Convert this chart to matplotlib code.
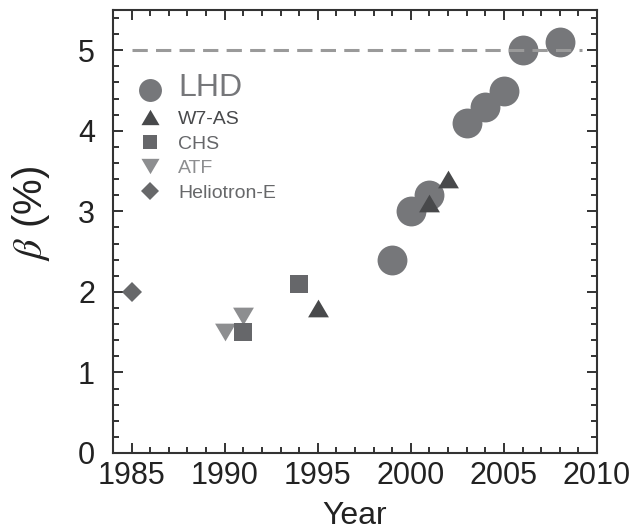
import matplotlib
matplotlib.use("Agg")
import matplotlib.pyplot as plt
from matplotlib.lines import Line2D
from matplotlib.ticker import MultipleLocator

plt.rcParams.update({
    "font.family": "Liberation Sans",
    "mathtext.fontset": "stix",
})

# Data
years_lhd = [1999, 2000, 2001, 2003, 2004, 2005, 2006, 2008]
beta_lhd = [2.4, 3.0, 3.2, 4.1, 4.3, 4.5, 5.0, 5.1]
years_w7as = [1995, 2001, 2002]
beta_w7as = [1.8, 3.1, 3.4]
years_chs = [1991, 1994]
beta_chs = [1.5, 2.1]
years_atf = [1990, 1991]
beta_atf = [1.5, 1.7]
years_hel = [1985]
beta_hel = [2.0]
beta_limit = 5.0
limit_span = [1985, 2009.2]

C_LHD = "#76777a"
C_W7 = "#48494b"
C_CHS = "#66676a"
C_ATF = "#8d8e90"
C_HEL = "#67686a"
C_AX = "#333333"

TRI_UP = [(-1, -0.85), (1, -0.85), (0, 0.85)]
TRI_DN = [(-1, 0.85), (1, 0.85), (0, -0.85)]

fig = plt.figure(figsize=(6.32, 5.32), dpi=100)
ax = fig.add_axes([113 / 632, 1 - 453 / 532, 484 / 632, 443 / 532])

ax.plot(years_lhd, beta_lhd, "o", ls="none", color=C_LHD, ms=21.5, mew=0, zorder=3)
ax.plot(years_atf, beta_atf, ls="none", marker=TRI_DN, color=C_ATF, ms=15, mew=0, zorder=4)
ax.plot(years_chs, beta_chs, "s", ls="none", color=C_CHS, ms=13, mew=0, zorder=5)
ax.plot(years_w7as, beta_w7as, ls="none", marker=TRI_UP, color=C_W7, ms=15, mew=0, zorder=5)
ax.plot(years_hel, beta_hel, "D", ls="none", color=C_HEL, ms=10, mew=0, zorder=5)

ax.hlines(beta_limit, limit_span[0], limit_span[1], colors="#9a9a9a", lw=2.2,
          linestyles=(0, (5, 2.7)), zorder=6)

ax.set_xlim(1984, 2010)
ax.set_ylim(0, 5.5)
ax.xaxis.set_major_locator(MultipleLocator(5))
ax.xaxis.set_minor_locator(MultipleLocator(1))
ax.yaxis.set_major_locator(MultipleLocator(1))
ax.yaxis.set_minor_locator(MultipleLocator(0.2))
ax.tick_params(which="both", direction="in", top=True, right=True, color=C_AX,
               width=1.4, labelsize=22, labelcolor="#222222")
ax.tick_params(which="major", length=7)
ax.tick_params(which="minor", length=4)
ax.tick_params(axis="x", pad=6)
ax.tick_params(axis="y", pad=13)
for s in ax.spines.values():
    s.set_color(C_AX)
    s.set_linewidth(1.5)

ax.set_xlabel("Year", fontsize=23, color="#222222", labelpad=7)
ax.set_ylabel(r"$\beta$ (%)", fontsize=29, color="#222222")
ax.yaxis.set_label_coords(-0.126, 0.54)

handles = [
    Line2D([], [], ls="none", marker="o", color=C_LHD, ms=16.5, mew=0),
    Line2D([], [], ls="none", marker=TRI_UP, color=C_W7, ms=13, mew=0),
    Line2D([], [], ls="none", marker="s", color=C_CHS, ms=10.5, mew=0),
    Line2D([], [], ls="none", marker=TRI_DN, color=C_ATF, ms=13, mew=0),
    Line2D([], [], ls="none", marker="D", color=C_HEL, ms=9, mew=0),
]
labels = ["LHD", "W7-AS", "CHS", "ATF", "Heliotron-E"]
leg = ax.legend(handles, labels, loc="upper left", bbox_to_anchor=(0.0525, 0.857),
                frameon=False, fontsize=14, borderpad=0, borderaxespad=0,
                handlelength=1.2, handletextpad=0.85, labelspacing=0.36)
text_colors = [C_LHD, C_W7, C_CHS, C_ATF, C_HEL]
for t, c in zip(leg.get_texts(), text_colors):
    t.set_color(c)
leg.get_texts()[0].set_fontsize(23)

fig.savefig("out.png", dpi=100)
